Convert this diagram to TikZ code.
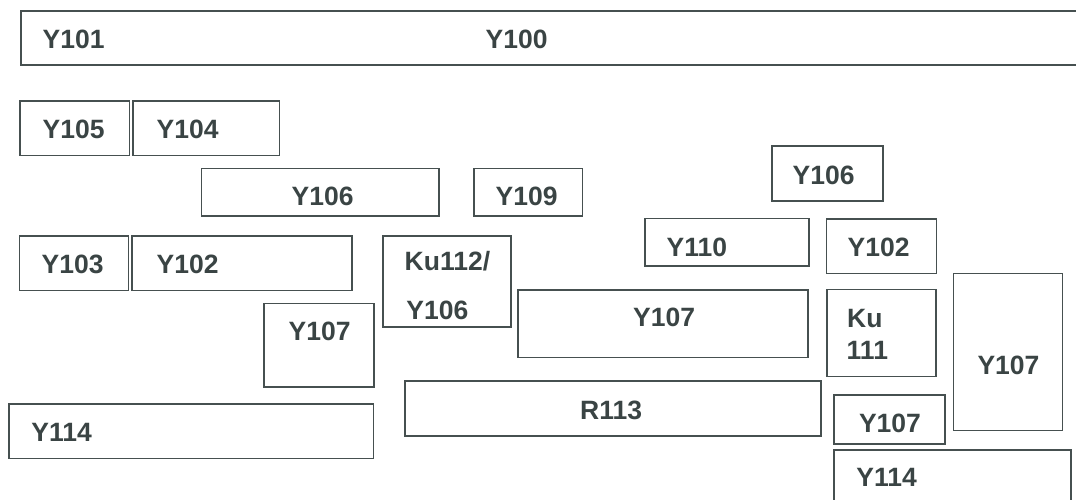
\documentclass[tikz,border=0pt]{standalone}
\usepackage{fontspec}
\setmainfont{Liberation Sans}
\usetikzlibrary{fit}
\definecolor{inkline}{HTML}{465050}
\definecolor{inktext}{HTML}{3A4444}
\tikzset{
  bx/.style={draw=inkline, line width=1.6pt, inner sep=0pt, rectangle},
  lbl/.style={anchor=base west, inner sep=0pt, text=inktext,
    font=\fontsize{26.5}{30}\selectfont\bfseries}
}
\begin{document}
\begin{tikzpicture}[x=1pt,y=-1pt]
\useasboundingbox (0,0) rectangle (1076,499);
% boxes
\node[bx, fit={(21,11)(1079,65)}] (b100) {};
\node[bx, fit={(20,100.7)(129.5,155.3)}] (b105) {};
\node[bx, fit={(133,100.7)(279.6,155.3)}] (b104) {};
\node[bx, fit={(201.4,168.3)(438.7,215.7)}] (b106a) {};
\node[bx, fit={(473.8,168.3)(582.5,216)}] (b109) {};
\node[bx, fit={(772,146)(883,200.7)}] (b106b) {};
\node[bx, fit={(19.6,236)(128.4,290.3)}] (b103) {};
\node[bx, fit={(132.2,236)(352,290.3)}] (b102a) {};
\node[bx, fit={(383,236)(511,327)}] (b112) {};
\node[bx, fit={(644.8,218.3)(808.7,265.7)}] (b110) {};
\node[bx, fit={(826.3,218.7)(936.5,273.3)}] (b102b) {};
\node[bx, fit={(264,303.3)(374,386.7)}] (b107a) {};
\node[bx, fit={(518,290)(808,357.3)}] (b107b) {};
\node[bx, fit={(827,289.3)(935.7,376.3)}] (b111) {};
\node[bx, fit={(953.5,273.3)(1062.5,430.3)}] (b107c) {};
\node[bx, fit={(405,381)(821,436)}] (b113) {};
\node[bx, fit={(834,395)(944.7,444)}] (b107d) {};
\node[bx, fit={(9,404)(373.6,458.3)}] (b114a) {};
\node[bx, fit={(834,450)(1070.7,502)}] (b114b) {};
% labels
\node[lbl] (t101) at (42.5,48) {Y101};
\node[lbl] (t100) at (485.5,48) {Y100};
\node[lbl] (t105) at (42.5,138.3) {Y105};
\node[lbl] (t104) at (156.5,138.3) {Y104};
\node[lbl] (t106a) at (291.5,205.7) {Y106};
\node[lbl] (t109) at (495.5,205.5) {Y109};
\node[lbl] (t106b) at (792.5,184) {Y106};
\node[lbl] (t103) at (41.5,273.3) {Y103};
\node[lbl] (t102a) at (156.5,273.3) {Y102};
\node[lbl] (t112a) at (404.5,270.3) {Ku112/};
\node[lbl] (t112b) at (406.2,319) {Y106};
\node[lbl] (t110) at (666.5,256) {Y110};
\node[lbl] (t102b) at (847.5,256.7) {Y102};
\node[lbl] (t107a) at (288.5,340.7) {Y107};
\node[lbl] (t107b) at (633,326.7) {Y107};
\node[lbl] (t111a) at (847,327.7) {Ku};
\node[lbl] (t111b) at (846.5,359.7) {111};
\node[lbl] (t107c) at (977.3,374) {Y107};
\node[lbl] (t113) at (580,419.3) {R113};
\node[lbl] (t107d) at (858.8,432.7) {Y107};
\node[lbl] (t114a) at (31.2,441) {Y114};
\node[lbl] (t114b) at (856.2,486.7) {Y114};
\end{tikzpicture}
\end{document}
